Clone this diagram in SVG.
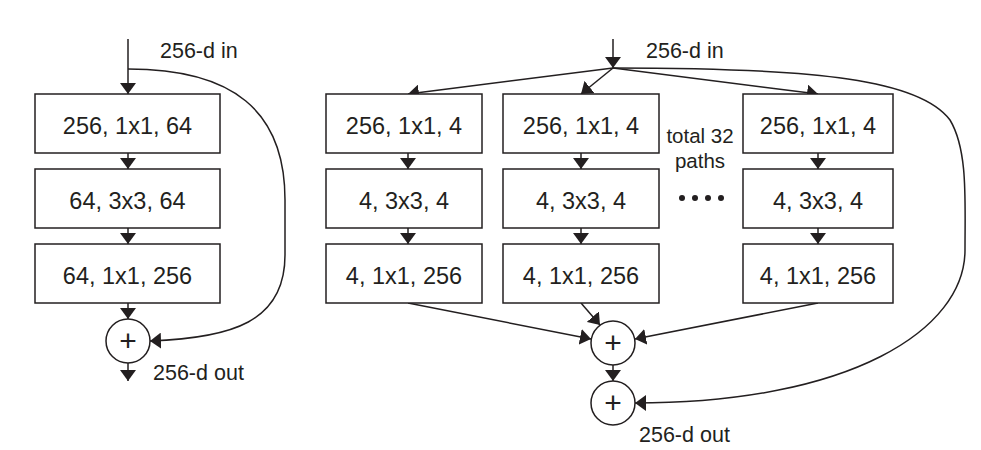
<svg xmlns="http://www.w3.org/2000/svg" width="981" height="450" viewBox="0 0 981 450">
<style>
.box{fill:#fff;stroke:#231f20;stroke-width:1.5}
.ln{fill:none;stroke:#231f20;stroke-width:1.5}
.arr{marker-end:url(#ah)}
.t{font-family:"Liberation Sans",Arial,sans-serif;font-size:23.5px;fill:#231f20;text-anchor:middle}
.lb{font-family:"Liberation Sans",Arial,sans-serif;font-size:21.5px;fill:#231f20}
.pl{font-family:"Liberation Sans",Arial,sans-serif;font-size:30px;fill:#231f20;text-anchor:middle}
.sm{font-family:"Liberation Sans",Arial,sans-serif;font-size:20.5px;fill:#231f20;text-anchor:middle}
</style>
<defs>
<marker id="ah" viewBox="0 0 11 16" refX="11" refY="8" markerWidth="11" markerHeight="16" markerUnits="userSpaceOnUse" orient="auto">
<path d="M0,0 L11,8 L0,16 z" fill="#231f20"/>
</marker>
</defs>
<rect width="981" height="450" fill="#fff"/>
<g id="connectors">
<line class="ln arr" x1="128" y1="39" x2="128" y2="94"/>
<line class="ln arr" x1="128" y1="153" x2="128" y2="169"/>
<line class="ln arr" x1="128" y1="228" x2="128" y2="244"/>
<line class="ln arr" x1="128" y1="303" x2="128" y2="319"/>
<line class="ln arr" x1="128" y1="363" x2="128" y2="381"/>
<path class="ln arr" d="M128,69 C232,69 285,110 285,200 L285,255 C285,322 232,338 150,341"/>
<line class="ln arr" x1="613" y1="39" x2="613" y2="68"/>
<line class="ln arr" x1="613" y1="68" x2="408" y2="94"/>
<line class="ln arr" x1="613" y1="68" x2="581" y2="94"/>
<line class="ln arr" x1="613" y1="68" x2="818" y2="94"/>
<line class="ln arr" x1="408" y1="153" x2="408" y2="169"/>
<line class="ln arr" x1="408" y1="228" x2="408" y2="244"/>
<line class="ln arr" x1="581" y1="153" x2="581" y2="169"/>
<line class="ln arr" x1="581" y1="228" x2="581" y2="244"/>
<line class="ln arr" x1="818" y1="153" x2="818" y2="169"/>
<line class="ln arr" x1="818" y1="228" x2="818" y2="244"/>
<line class="ln arr" x1="408" y1="303" x2="591" y2="339"/>
<line class="ln arr" x1="581" y1="303" x2="600" y2="325"/>
<line class="ln arr" x1="818" y1="303" x2="635" y2="339"/>
<line class="ln arr" x1="613" y1="365" x2="613" y2="381"/>
<path class="ln arr" d="M613,68 C820,68 920,80 950,120 C968,150 965,200 965,250 C965,330 850,403 635,403"/>
</g>
<g id="left-in"><text class="lb" x="160" y="58">256-d in</text></g>
<g id="left-b1"><rect class="box" x="35" y="94" width="185" height="59"/><text class="t" x="127.5" y="134">256, 1x1, 64</text></g>
<g id="left-b2"><rect class="box" x="35" y="169" width="185" height="59"/><text class="t" x="127.5" y="209">64, 3x3, 64</text></g>
<g id="left-b3"><rect class="box" x="35" y="244" width="185" height="59"/><text class="t" x="127.5" y="284">64, 1x1, 256</text></g>
<g id="left-sum"><circle class="box" cx="128" cy="341" r="22"/><text class="pl" x="128" y="351">+</text></g>
<g id="left-out"><text class="lb" x="153" y="380">256-d out</text></g>
<g id="right-in"><text class="lb" x="646" y="58">256-d in</text></g>
<g id="c1-b1"><rect class="box" x="326" y="94" width="156" height="59"/><text class="t" x="404" y="134">256, 1x1, 4</text></g>
<g id="c1-b2"><rect class="box" x="326" y="169" width="156" height="59"/><text class="t" x="404" y="209">4, 3x3, 4</text></g>
<g id="c1-b3"><rect class="box" x="326" y="244" width="156" height="59"/><text class="t" x="404" y="284">4, 1x1, 256</text></g>
<g id="c2-b1"><rect class="box" x="503" y="94" width="156" height="59"/><text class="t" x="581" y="134">256, 1x1, 4</text></g>
<g id="c2-b2"><rect class="box" x="503" y="169" width="156" height="59"/><text class="t" x="581" y="209">4, 3x3, 4</text></g>
<g id="c2-b3"><rect class="box" x="503" y="244" width="156" height="59"/><text class="t" x="581" y="284">4, 1x1, 256</text></g>
<g id="c3-b1"><rect class="box" x="743" y="94" width="150" height="59"/><text class="t" x="818" y="134">256, 1x1, 4</text></g>
<g id="c3-b2"><rect class="box" x="743" y="169" width="150" height="59"/><text class="t" x="818" y="209">4, 3x3, 4</text></g>
<g id="c3-b3"><rect class="box" x="743" y="244" width="150" height="59"/><text class="t" x="818" y="284">4, 1x1, 256</text></g>
<g id="paths-note">
<text class="sm" x="700" y="143">total 32</text>
<text class="sm" x="700" y="168">paths</text>
<circle cx="682" cy="198" r="3" fill="#231f20"/>
<circle cx="695" cy="198" r="3" fill="#231f20"/>
<circle cx="708" cy="198" r="3" fill="#231f20"/>
<circle cx="721" cy="198" r="3" fill="#231f20"/>
</g>
<g id="right-sum1"><circle class="box" cx="613" cy="343" r="22"/><text class="pl" x="613" y="353">+</text></g>
<g id="right-sum2"><circle class="box" cx="613" cy="403" r="22"/><text class="pl" x="613" y="413">+</text></g>
<g id="right-out"><text class="lb" x="639" y="442">256-d out</text></g>
</svg>
